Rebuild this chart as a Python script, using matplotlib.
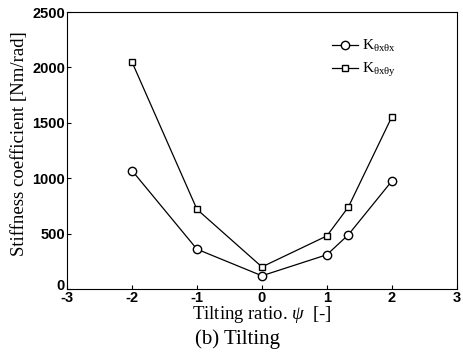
import matplotlib
matplotlib.use("Agg")
import matplotlib.pyplot as plt
import matplotlib.transforms as mtransforms

plt.rcParams["axes.unicode_minus"] = False
plt.rcParams["mathtext.fontset"] = "custom"
plt.rcParams["mathtext.rm"] = "Liberation Serif"
plt.rcParams["mathtext.it"] = "Liberation Serif:italic"

# Tilting ratio and stiffness coefficients
psi = [-2, -1, 0, 1, 1.33, 2]
k_xx = [1070, 360, 120, 310, 490, 975]
k_xy = [2050, 720, 200, 480, 740, 1555]

x_ticks = [-3, -2, -1, 0, 1, 2, 3]
y_ticks = [0, 500, 1000, 1500, 2000, 2500]

fig = plt.figure(figsize=(4.63, 3.56), dpi=100)
ax = fig.add_axes([0.1447, 0.188, 0.842, 0.778])

ax.plot(psi, k_xx, color="black", lw=0.9, marker="o", ms=6,
        mfc="white", mec="black", mew=1.0,
        label=r"K$_{\mathregular{\theta x \theta x}}$")
ax.plot(psi, k_xy, color="black", lw=0.9, marker="s", ms=4.5,
        mfc="white", mec="black", mew=1.0,
        label=r"K$_{\mathregular{\theta x \theta y}}$")

ax.set_xlim(-3, 3)
ax.set_ylim(0, 2500)
ax.set_xticks(x_ticks)
ax.set_yticks(y_ticks)
ax.tick_params(direction="in", length=3, width=0.8, pad=1.5)
for lab in ax.get_xticklabels() + ax.get_yticklabels():
    lab.set_fontfamily("Liberation Sans")
    lab.set_fontweight("bold")
    lab.set_fontsize(10.5)
for s in ax.spines.values():
    s.set_linewidth(0.8)

# lift the y-axis "0" a little so it clears the "-3" below the corner
zero_lab = ax.get_yticklabels()[0]
zero_lab.set_transform(zero_lab.get_transform() +
                       mtransforms.ScaledTranslation(0, 3 / 72, fig.dpi_scale_trans))

serif = "Liberation Serif"
ax.set_ylabel("Stiffness coefficient [Nm/rad]", fontfamily=serif,
              fontsize=13.5)
ax.yaxis.set_label_coords(-0.10, 0.525)
ax.set_xlabel(r"Tilting ratio. $\it{\psi}$  [-]", fontfamily=serif,
              fontsize=13.5, labelpad=-1)
fig.text(0.514, 0.02, "(b) Tilting", fontfamily=serif, fontsize=15,
         ha="center", va="bottom")

leg = ax.legend(loc="upper right", frameon=False,
                prop={"family": serif, "size": 11},
                handlelength=1.7, handletextpad=0.3, labelspacing=0.45,
                bbox_to_anchor=(0.88, 0.955))

fig.savefig("out.png", dpi=100)
